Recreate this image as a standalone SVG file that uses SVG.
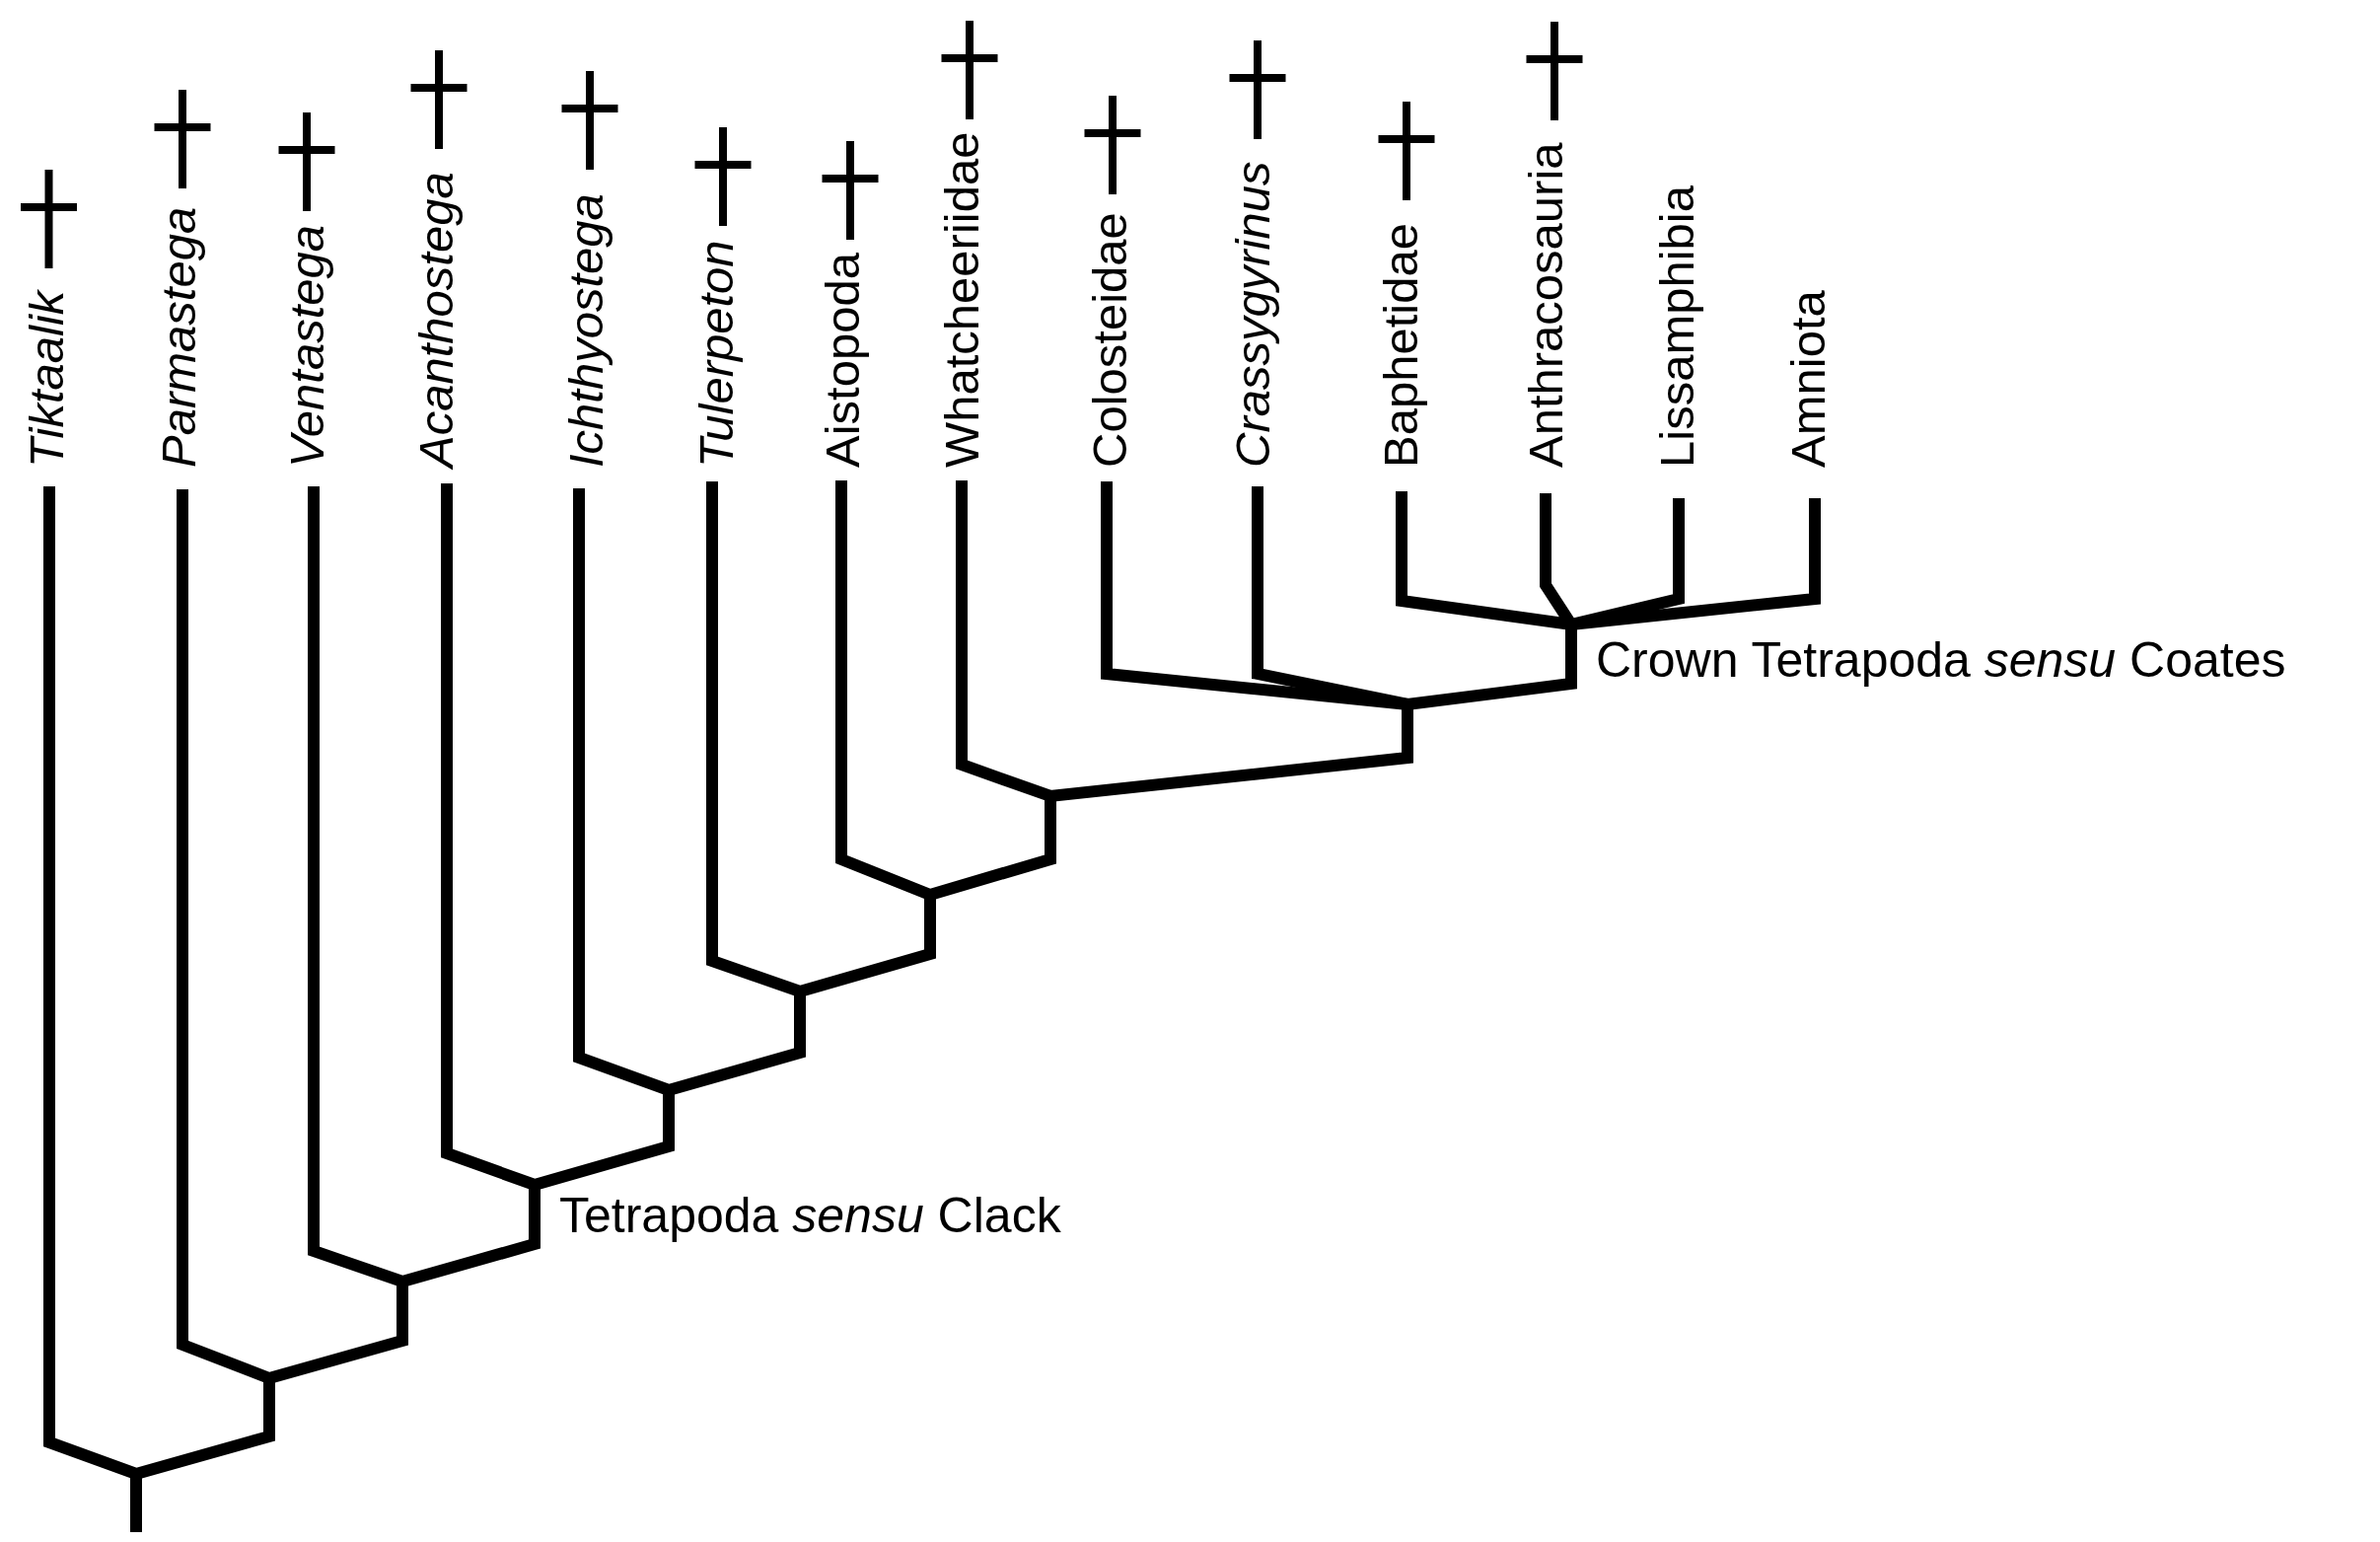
<svg xmlns="http://www.w3.org/2000/svg" xmlns:xlink="http://www.w3.org/1999/xlink" width="2413" height="1563" viewBox="0 0 2413 1563">
<style>
.lbl{font-family:"Liberation Sans",Arial,sans-serif;font-size:49px;fill:#000}
.clade{font-size:50px}
.it{font-style:italic}
.br{fill:none;stroke:#000;stroke-width:12;stroke-linejoin:miter;stroke-linecap:butt;stroke-miterlimit:10}
.dg{stroke:#000;stroke-width:8;fill:none}
</style>
<defs>
<g id="dagger"><line class="dg" x1="0" y1="0" x2="0" y2="100"/><line class="dg" x1="-28.5" y1="38" x2="28.5" y2="38"/></g>
</defs>
<rect width="2413" height="1563" fill="#fff"/>
<g id="connectors">
<polyline class="br" points="50,493 50,1462 138,1494 273,1456 273,1397"/>
<polyline class="br" points="138,1494 138,1553"/>
<polyline class="br" points="185,496 185,1363 273,1397 408,1359 408,1299"/>
<polyline class="br" points="318,493 318,1268 408,1299 542,1261 542,1201"/>
<polyline class="br" points="453,490 453,1169 542,1201 678,1162 678,1105"/>
<polyline class="br" points="587,495 587,1072 678,1105 811,1067 811,1005"/>
<polyline class="br" points="722,488 722,974 811,1005 943,967 943,907"/>
<polyline class="br" points="853,487 853,871 943,907 1065,871 1065,807"/>
<polyline class="br" points="975,487 975,775 1065,807 1427,768 1427,714"/>
<polyline class="br" points="1122,488 1122,683 1427,714 1593,693 1593,633"/>
<polyline class="br" points="1275,493 1275,683 1427,714"/>
<polyline class="br" points="1421,498 1421,609 1593,633 1840,607 1840,505"/>
<polyline class="br" points="1567,500 1567,593 1593,633"/>
<polyline class="br" points="1702,505 1702,607 1593,633"/>
</g>
<g id="tiktaalik"><text class="lbl it" transform="translate(64,474) rotate(-90)">Tiktaalik</text><use xlink:href="#dagger" x="49.5" y="172"/></g>
<g id="parmastega"><text class="lbl it" transform="translate(198,474) rotate(-90)">Parmastega</text><use xlink:href="#dagger" x="185" y="91"/></g>
<g id="ventastega"><text class="lbl it" transform="translate(328,474) rotate(-90)">Ventastega</text><use xlink:href="#dagger" x="311" y="114"/></g>
<g id="acanthostega"><text class="lbl it" transform="translate(459,474) rotate(-90)">Acanthostega</text><use xlink:href="#dagger" x="445" y="51"/></g>
<g id="ichthyostega"><text class="lbl it" transform="translate(611,474) rotate(-90)">Ichthyostega</text><use xlink:href="#dagger" x="598" y="72"/></g>
<g id="tulerpeton"><text class="lbl it" transform="translate(743,474) rotate(-90)">Tulerpeton</text><use xlink:href="#dagger" x="733" y="129"/></g>
<g id="aistopoda"><text class="lbl" transform="translate(871,474) rotate(-90)">Aistopoda</text><use xlink:href="#dagger" x="862" y="143"/></g>
<g id="whatcheeriidae"><text class="lbl" transform="translate(992,474) rotate(-90)">Whatcheeriidae</text><use xlink:href="#dagger" x="983" y="21"/></g>
<g id="colosteidae"><text class="lbl" transform="translate(1142,474) rotate(-90)">Colosteidae</text><use xlink:href="#dagger" x="1128" y="97"/></g>
<g id="crassygyrinus"><text class="lbl it" transform="translate(1287,474) rotate(-90)">Crassygyrinus</text><use xlink:href="#dagger" x="1275" y="41"/></g>
<g id="baphetidae"><text class="lbl" transform="translate(1437,474) rotate(-90)">Baphetidae</text><use xlink:href="#dagger" x="1426" y="103"/></g>
<g id="anthracosauria"><text class="lbl" transform="translate(1584,474) rotate(-90)">Anthracosauria</text><use xlink:href="#dagger" x="1576" y="22"/></g>
<g id="lissamphibia"><text class="lbl" transform="translate(1717,474) rotate(-90)">Lissamphibia</text></g>
<g id="amniota"><text class="lbl" transform="translate(1850,474) rotate(-90)">Amniota</text></g>
<g id="tetrapoda-clack"><text class="lbl clade" x="567" y="1249">Tetrapoda <tspan class="it">sensu</tspan> Clack</text></g>
<g id="crown-tetrapoda"><text class="lbl clade" x="1618" y="686">Crown Tetrapoda <tspan class="it">sensu</tspan> Coates</text></g>
</svg>
